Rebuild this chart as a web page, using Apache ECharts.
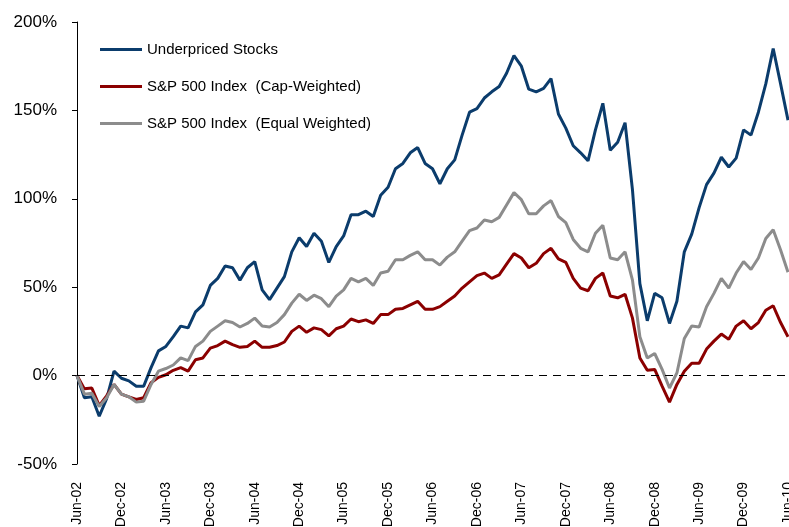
<!DOCTYPE html>
<html>
<head>
<meta charset="utf-8">
<script src="https://cdn.jsdelivr.net/npm/echarts@6/dist/echarts.min.js"></script>
<style>
  html, body { margin: 0; padding: 0; background: #fff; }
  #main { width: 789px; height: 527px; }
</style>
</head>
<body>
<div id="main"></div>
<script>
// monthly, Jun-02 .. Jun-10
var monthNames = ['Jan','Feb','Mar','Apr','May','Jun','Jul','Aug','Sep','Oct','Nov','Dec'];
var categories = [];
for (var k = 0; k <= 96; k++) {
    var m = (5 + k) % 12, y = 2 + Math.floor((5 + k) / 12);
    categories.push(monthNames[m] + '-' + (y < 10 ? '0' + y : '' + y));
}

var seriesNames = ['Underpriced Stocks', 'S&P 500 Index  (Cap-Weighted)', 'S&P 500 Index  (Equal Weighted)'];

var underpriced = [
    0, -12.5, -12, -23, -13, 2.5, -1.5, -3, -6, -6, 4.5, 14, 16.5, 22, 28, 27,
    36, 40, 51, 55, 62, 61, 54, 61, 64.5, 48.5, 43, 49.5, 56, 70, 78, 73,
    80.5, 76, 64, 73, 79, 91, 91, 93, 90, 102, 106.5, 117, 120, 126, 129, 120,
    117, 108.5, 117, 122, 136, 149, 151, 157, 160.5, 163.5, 171, 181, 175, 162,
    160.5, 162.5, 168, 148, 140, 130, 126, 121.5, 139, 154, 127.5, 132, 143, 105,
    52, 31, 46.5, 44, 29.5, 42, 70, 80, 95, 108, 114.5, 123.5, 118, 123,
    139, 136, 149, 165, 185, 165, 144.5
];

var capWeighted = [
    0, -7.5, -7, -17, -11.5, -5, -10.5, -12, -13.5, -12.5, -4, -1, 0.5, 3, 4.5, 2.5,
    9, 10, 15.5, 17, 19.5, 17.5, 16, 16.5, 19.5, 16, 16, 17, 19, 25, 28, 24.5,
    27, 26, 22.5, 26.5, 28, 32, 30.5, 31.5, 29.5, 34.5, 34.5, 37.5, 38, 40, 42, 37.5,
    37.5, 39, 42, 45, 49.5, 53, 56.5, 58, 55, 57, 63, 69, 66.5, 61,
    63.5, 69, 72, 66, 64, 55, 49.5, 48, 55, 58, 45, 44, 46, 32.5,
    10, 3, 3.5, -6, -15, -5, 2.5, 7, 7, 15, 19.5, 23.5, 20.5, 28,
    31, 26.5, 30, 37, 39.5, 30, 22
];

var equalWeighted = [
    0, -10.5, -10, -17.5, -12.5, -5, -10.5, -12, -15, -14.5, -5, 2.5, 4, 6, 10, 8.5,
    16.5, 19.5, 25, 28, 31, 30, 27.5, 29.5, 32.5, 28, 27.5, 30, 34.5, 41, 46, 42.5,
    45.5, 43.5, 39, 45, 48.5, 55, 53, 55, 51, 58, 59, 65.5, 65.5, 68, 70, 65.5,
    65.5, 62.5, 67, 70, 76, 82, 83.5, 88, 87, 89.5, 96.5, 103.5, 99.5, 91.5,
    91.5, 96, 99, 90, 86.5, 77, 72, 70, 80.5, 85, 66.5, 65.5, 70, 54,
    22, 10, 12.5, 3.5, -7, 1.5, 21, 28, 27.5, 39, 46.5, 55, 49.5, 58,
    64.5, 60, 66.5, 77.5, 82.5, 71, 58.5
];

var yTicks = [-50, 0, 50, 100, 150, 200];

var sans = "'Liberation Sans', Arial, sans-serif";

var myChart = echarts.init(document.getElementById('main'));

var option = {
    animation: false,
    backgroundColor: '#fff',
    grid: { left: 77, right: 1, top: 22, bottom: 63, outerBoundsMode: 'none', containLabel: false },
    legend: {
        orient: 'vertical',
        left: 95,
        top: 37,
        icon: 'rect',
        itemWidth: 42,
        itemHeight: 3,
        itemGap: 22,
        itemTextGap: 5,
        textStyle: { fontFamily: sans, fontSize: 15, color: '#000' },
        data: seriesNames
    },
    color: ['#0b3c6c', '#8b0000', '#8c8c8c'],
    xAxis: {
        type: 'category',
        data: categories,
        boundaryGap: false,
        axisLine: { show: false },
        axisTick: { show: false },
        axisLabel: {
            interval: 5,
            rotate: 90,
            margin: 18,
            fontFamily: sans,
            fontSize: 14,
            color: '#000'
        }
    },
    yAxis: {
        type: 'value',
        min: yTicks[0],
        max: yTicks[yTicks.length - 1],
        interval: 50,
        axisLine: { show: true, lineStyle: { color: '#000', width: 1 } },
        axisTick: { show: true, length: 5, lineStyle: { color: '#000' } },
        splitLine: { show: false },
        axisLabel: {
            formatter: '{value}%',
            margin: 20,
            fontFamily: sans,
            fontSize: 17,
            color: '#000'
        }
    },
    series: [
        {
            name: seriesNames[0],
            type: 'line',
            data: underpriced,
            showSymbol: false,
            lineStyle: { width: 3 },
            markLine: {
                silent: true,
                symbol: 'none',
                label: { show: false },
                lineStyle: { color: '#000', type: [8, 6], width: 1 },
                data: [{ yAxis: 0 }]
            }
        },
        {
            name: seriesNames[1],
            type: 'line',
            data: capWeighted,
            showSymbol: false,
            lineStyle: { width: 3 }
        },
        {
            name: seriesNames[2],
            type: 'line',
            data: equalWeighted,
            showSymbol: false,
            lineStyle: { width: 3 }
        }
    ]
};

myChart.setOption(option);
</script>
</body>
</html>
